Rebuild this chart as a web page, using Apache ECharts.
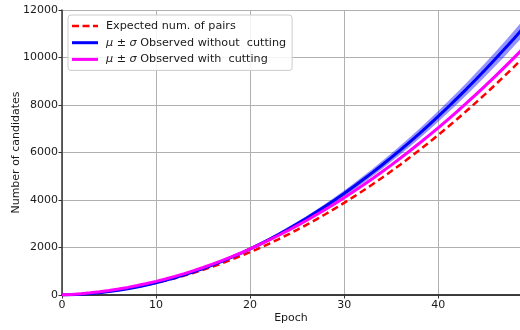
<!DOCTYPE html>
<html>
<head>
<meta charset="utf-8">
<script src="https://cdn.jsdelivr.net/npm/echarts@6/dist/echarts.min.js"></script>
<style>html,body{margin:0;padding:0;background:#fff}#c{width:520px;height:330px}</style>
</head>
<body>
<div id="c"></div>
<script>
var epochs = [0,1,2,3,4,5,6,7,8,9,10,11,12,13,14,15,16,17,18,19,20,21,22,23,24,25,26,27,28,29,30,31,32,33,34,35,36,37,38,39,40,41,42,43,44,45,46,47,48,49];
var expectedPairs = [0,16,40,71,111,158,213,276,346,425,511,605,707,817,934,1060,1193,1334,1483,1640,1804,1976,2156,2344,2540,2744,2955,3174,3401,3636,3879,4130,4388,4654,4928,5210,5499,5797,6102,6415,6736,7065,7401,7746,8098,8458,8826,9201,9585,9976];
var observedWithout = [0,11,30,59,97,144,200,265,339,423,515,617,727,847,976,1114,1261,1417,1582,1757,1940,2133,2334,2545,2765,2994,3232,3479,3735,4001,4275,4559,4851,5153,5464,5784,6113,6451,6798,7155,7520,7895,8278,8671,9073,9484,9904,10333,10771,11219];
var sigmaWithout = [0,0,1,2,3,4,6,8,10,13,15,19,22,25,29,33,38,43,47,53,58,64,70,76,83,90,97,104,112,120,128,137,146,155,164,174,183,194,204,215,226,237,248,260,272,285,297,310,323,337];
var observedWith = [0,22,52,90,135,189,250,320,397,482,575,676,785,902,1026,1159,1299,1448,1604,1768,1940,2120,2308,2504,2707,2919,3138,3366,3601,3844,4095,4354,4621,4896,5178,5469,5767,6074,6388,6710,7040,7378,7724,8078,8439,8809,9186,9572,9965,10366];
var sigmaWith = [0,0,1,1,1,2,2,3,4,5,6,7,8,9,10,12,13,14,16,18,19,21,23,25,27,29,31,34,36,38,41,44,46,49,52,55,58,61,64,67,70,74,77,81,84,88,92,96,100,104];
var xTicks = [0,10,20,30,40];
var yTicks = [0,2000,4000,6000,8000,10000,12000];

var nameExp = 'Expected num. of pairs';
var nameWithout = 'Observed without  cutting';
var nameWith = 'Observed with  cutting';

function pairs(ys){ return epochs.map(function(x,i){ return [x, ys[i]]; }); }
function band(mean, sig, color){
  return {
    type: 'custom',
    silent: true,
    clip: true,
    z: 1,
    data: [[0, 0]],
    renderItem: function(params, api){
      var up = [], lo = [];
      for (var i = 0; i < epochs.length; i++) {
        up.push(api.coord([epochs[i], mean[i] + sig[i]]));
        lo.push(api.coord([epochs[i], mean[i] - sig[i]]));
      }
      var pts = up.concat(lo.reverse());
      var cs = params.coordSys;
      return {
        type: 'group',
        children: [{ type: 'polygon', shape: { points: pts }, style: { fill: color, stroke: null } }],
        clipPath: { type: 'rect', shape: { x: cs.x, y: cs.y, width: cs.width, height: cs.height } }
      };
    }
  };
}

var chart = echarts.init(document.getElementById('c'), null, {renderer: 'canvas'});
var font = 'DejaVu Sans';
chart.setOption({
  animation: false,
  backgroundColor: '#fff',
  textStyle: { fontFamily: font },
  grid: { left: 62, right: 0, top: 10, bottom: 35, containLabel: false, outerBoundsMode: 'none' },
  legend: {
    left: 68, top: 15, orient: 'vertical',
    padding: [4, 6, 4, 4],
    itemWidth: 26, itemHeight: 3, itemGap: 2.7,
    backgroundColor: 'rgba(255,255,255,0.85)',
    borderColor: '#cccccc', borderWidth: 1, borderRadius: 3,
    data: [
      { name: nameExp, icon: 'path://M0,0h7v2.6h-7zM10.5,0h7v2.6h-7zM21,0h5v2.6h-5z', itemStyle: { color: '#ff0000' } },
      { name: nameWithout, icon: 'path://M0,0h26v3h-26z', itemStyle: { color: '#0000ff' } },
      { name: nameWith, icon: 'path://M0,0h26v3h-26z', itemStyle: { color: '#ff00ff' } }
    ],
    formatter: function(n){
      if (n === nameExp) return n;
      return '{i|μ} ± {i|σ} ' + n;
    },
    textStyle: {
      fontFamily: font, fontSize: 11.2, color: '#1a1a1a', lineHeight: 14, padding: [0, 0, 0, 3],
      rich: { i: { fontFamily: font, fontStyle: 'italic', fontSize: 11.2, color: '#1a1a1a' } }
    }
  },
  xAxis: [{
    type: 'value', min: 0, max: 48.7, interval: 10,
    name: 'Epoch', nameLocation: 'middle', nameGap: 18, nameMoveOverlap: false,
    nameTextStyle: { fontFamily: font, fontSize: 11, color: '#1a1a1a' },
    axisLine: { show: true, onZero: false, lineStyle: { color: '#333', width: 1.5 } },
    axisTick: { show: true, inside: false, length: 3.5, lineStyle: { color: '#333' } },
    axisLabel: { fontFamily: font, fontSize: 11, color: '#1a1a1a', margin: 5, showMaxLabel: false,
      formatter: function(v){ return xTicks.indexOf(v) >= 0 ? String(v) : ''; } },
    splitLine: { show: true, lineStyle: { color: '#b0b0b0', width: 1 } }
  }, {
    type: 'value', position: 'top', min: 0, max: 48.7, interval: 10,
    axisLine: { show: true, lineStyle: { color: '#333', width: 1.5 } },
    axisTick: { show: false }, axisLabel: { show: false }, splitLine: { show: false }
  }],
  yAxis: {
    type: 'value', min: 0, max: 12000, interval: 2000,
    name: 'Number of candidates', nameLocation: 'middle', nameGap: 40, nameMoveOverlap: false,
    nameTextStyle: { fontFamily: font, fontSize: 11, color: '#1a1a1a' },
    axisLine: { show: true, lineStyle: { color: '#333', width: 1.5 } },
    axisTick: { show: true, inside: false, length: 3.5, lineStyle: { color: '#333' } },
    axisLabel: { fontFamily: font, fontSize: 11, color: '#1a1a1a', margin: 4,
      formatter: function(v){ return yTicks.indexOf(v) >= 0 ? String(v) : ''; } },
    splitLine: { show: true, lineStyle: { color: '#b0b0b0', width: 1 } }
  },
  series: [
    band(observedWithout, sigmaWithout, 'rgba(0,0,255,0.42)'),
    band(observedWith, sigmaWith, 'rgba(255,0,255,0.35)'),
    { name: nameExp, type: 'line', data: pairs(expectedPairs), showSymbol: false, symbol: 'none', z: 3,
      lineStyle: { color: '#ff0000', width: 2.5, type: [7, 4] }, itemStyle: { color: '#ff0000' } },
    { name: nameWithout, type: 'line', data: pairs(observedWithout), showSymbol: false, symbol: 'none', z: 4,
      lineStyle: { color: '#0000ff', width: 3 }, itemStyle: { color: '#0000ff' } },
    { name: nameWith, type: 'line', data: pairs(observedWith), showSymbol: false, symbol: 'none', z: 5,
      lineStyle: { color: '#ff00ff', width: 3 }, itemStyle: { color: '#ff00ff' } }
  ]
});
</script>
</body>
</html>
